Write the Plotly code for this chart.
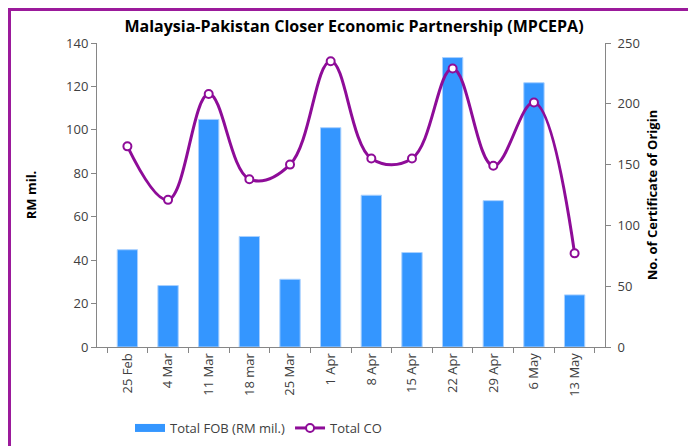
import plotly.graph_objects as go

categories = ["25 Feb", "4 Mar", "11 Mar", "18 mar", "25 Mar", "1 Apr", "8 Apr",
              "15 Apr", "22 Apr", "29 Apr", "6 May", "13 May"]
fob_values = [44.8, 28.3, 104.8, 50.9, 31.2, 101.0, 69.9, 43.5, 133.3, 67.4, 121.7, 24.0]
co_values = [165, 121, 208, 138, 150, 235, 155, 155, 229, 149, 201, 77]
left_ticks = [0, 20, 40, 60, 80, 100, 120, 140]
right_ticks = [0, 50, 100, 150, 200, 250]

FONT = "Open Sans"
PURPLE = "#8E0C98"
BLUE = "#3496FF"
W, H = 696, 446
OFF = 8  # page body margin

def fx(p):
    return (p - OFF) / W

def fy(p):
    return 1 - (p - OFF) / H

fig = go.Figure()
fig.add_trace(go.Bar(x=categories, y=fob_values, name="Total FOB (RM mil.)", showlegend=False,
                     marker=dict(color=BLUE, line=dict(color="#A8D0FF", width=1)),
                     xaxis="x", yaxis="y"))
# legend-only entry to mimic the wide rectangular bar swatch
fig.add_trace(go.Scatter(x=[None], y=[None], name="Total FOB (RM mil.)", mode="lines",
                         line=dict(color=BLUE, width=8), xaxis="x", yaxis="y"))
fig.add_trace(go.Scatter(x=categories, y=co_values, name="Total CO", mode="lines+markers",
                         line=dict(color=PURPLE, width=3, shape="spline", smoothing=1.1),
                         marker=dict(symbol="circle", size=8, color="white",
                                     line=dict(color=PURPLE, width=2)),
                         xaxis="x", yaxis="y2"))

axis_common = dict(showline=True, linecolor="#868686", linewidth=1, ticks="outside",
                   ticklen=5, tickcolor="#868686", showgrid=False, zeroline=False,
                   automargin=False,
                   tickfont=dict(family=FONT, size=13, color="#404040"))

fig.update_layout(
    width=W, height=H,
    margin=dict(l=0, r=0, t=0, b=0),
    paper_bgcolor="white", plot_bgcolor="white",
    bargap=0.5,
    xaxis=dict(**axis_common, domain=[fx(97), fx(605)], tickangle=-90, tickson="boundaries",
               anchor="y"),
    yaxis=dict(**axis_common, domain=[fy(347), fy(43)], range=[0, 140], tickvals=left_ticks,
               anchor="x",
               title=dict(text="<b>RM mil.</b>", font=dict(family=FONT, size=13, color="#000"),
                          standoff=26)),
    yaxis2=dict(**axis_common, domain=[fy(347), fy(43)], range=[0, 250], tickvals=right_ticks,
                overlaying="y", side="right", anchor="x", ticklabelstandoff=4,
                title=dict(text="<b>No. of Certificate of Origin</b>",
                           font=dict(family=FONT, size=13, color="#000"), standoff=8)),
    title=dict(text="<b>Malaysia-Pakistan Closer Economic Partnership (MPCEPA)</b>",
               x=fx(354), xanchor="center", y=fy(26), yanchor="middle",
               font=dict(family=FONT, size=16, color="#000")),
    legend=dict(orientation="h", x=fx(130), xanchor="left", y=fy(428), yanchor="middle",
                font=dict(family=FONT, size=13, color="#404040"), itemwidth=30,
                tracegroupgap=0),
    showlegend=True,
    shapes=[
        dict(type="line", xref="paper", yref="paper", x0=fx(9.5), x1=fx(9.5),
             y0=fy(8), y1=fy(452), line=dict(color="#9B1A9B", width=3)),
        dict(type="line", xref="paper", yref="paper", x0=fx(8), x1=fx(700),
             y0=fy(9.5), y1=fy(9.5), line=dict(color="#9B1A9B", width=3)),
        dict(type="line", xref="paper", yref="paper", x0=fx(694), x1=fx(694),
             y0=fy(8), y1=fy(452), line=dict(color="#D9A6D9", width=1.5)),
    ],
)

fig.write_html("out.html")
